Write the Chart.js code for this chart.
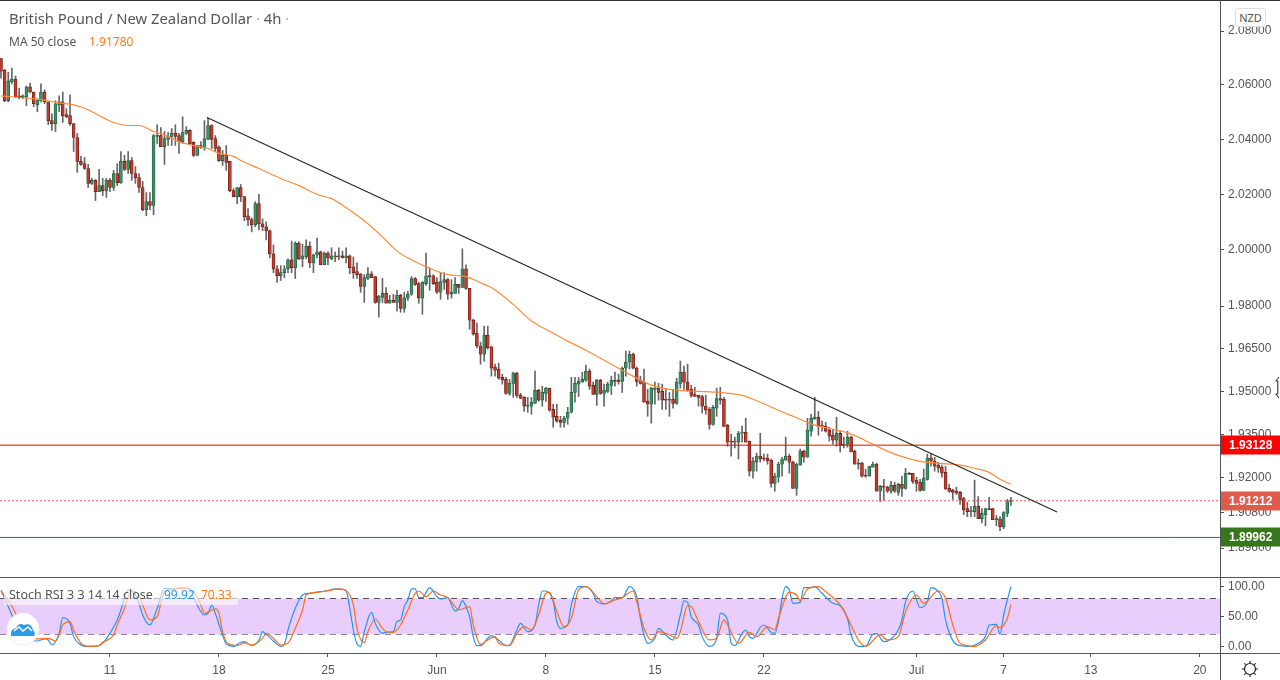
<!DOCTYPE html>
<html>
<head>
<meta charset="utf-8">
<title>GBP/NZD 4h</title>
<script src="https://cdn.jsdelivr.net/npm/chart.js@4"></script>
<style>
  html, body { margin: 0; padding: 0; background: #fff; }
  #page { position: relative; width: 1280px; height: 680px; overflow: hidden; font-family: "Noto Sans", sans-serif; color: #555; }
  canvas { position: absolute; left: 0; }
  #myChart { top: 0; }
  #stochChart { top: 577px; }
  .rule { position: absolute; background: #555; }
  .txt { position: absolute; white-space: pre; }
  #nzd { position: absolute; left: 1235px; top: 8px; width: 29px; height: 17px; line-height: 17px; text-align: center; border: 1px solid #ddd; border-radius: 3px; font-size: 11px; background: #fff; }
  #stochBack { position: absolute; left: 4px; top: 585px; width: 234px; height: 20px; background: rgba(255,255,255,0.6); }
  svg { position: absolute; }
</style>
</head>
<body>
<div id="page">
  <canvas id="myChart" width="1280" height="577" style="width:1280px;height:577px"></canvas>
  <canvas id="stochChart" width="1280" height="103" style="width:1280px;height:103px"></canvas>
  <div class="rule" style="left:0;top:0;width:1280px;height:1px;background:#333"></div>
  <div class="rule" style="left:0;top:577px;width:1280px;height:1px"></div>
  <div class="rule" style="left:0;top:653px;width:1280px;height:1px"></div>
  <div class="rule" style="left:1220px;top:0;width:1px;height:680px"></div>
  <div class="txt" style="left:9px;top:8px;font-size:14.8px;line-height:20px">British Pound / New Zealand Dollar <span style="color:#aaa">·</span> 4h <span style="color:#aaa">·</span></div>
  <div class="txt" style="left:9px;top:33px;font-size:12px;line-height:17px">MA 50 close</div>
  <div class="txt" style="left:89px;top:33px;font-size:12px;line-height:17px;color:#ff7a1a">1.91780</div>
  <div id="nzd">NZD</div>
  <div id="stochBack"></div>
  <div class="txt" style="left:9px;top:586px;font-size:12.5px;line-height:17px">Stoch RSI 3 3 14 14 close</div>
  <div class="txt" style="left:164px;top:586px;font-size:12px;line-height:17px;color:#2196f3">99.92</div>
  <div class="txt" style="left:201px;top:586px;font-size:12px;line-height:17px;color:#ff7a1a">70.33</div>
  <svg style="left:6px;top:612px" width="34" height="34" viewBox="0 0 34 34">
    <circle cx="17" cy="17" r="16" fill="#fff" stroke="#eee"/>
    <path d="M5 24 q-1 -7 5 -8 q3 -6 8 -3 q7 -3 9 5 q3 3 1 6 z" fill="#2e9be6"/>
    <path d="M8 19 l5 -4 l4 4 l5 -4 l4 4" fill="none" stroke="#fff" stroke-width="1.5"/>
  </svg>
  <svg style="left:1241px;top:660px" width="18" height="18" viewBox="0 0 18 18">
    <circle cx="9" cy="9" r="5.5" fill="none" stroke="#222" stroke-width="1.2"/>
    <path d="M9 1v2M9 15v2M1 9h2M15 9h2M3.3 3.3l1.4 1.4M13.3 13.3l1.4 1.4M3.3 14.7l1.4-1.4M13.3 4.7l1.4-1.4" stroke="#222" stroke-width="1.2"/>
  </svg>
  <svg style="left:1275px;top:376px" width="5" height="23" viewBox="0 0 5 23">
    <path d="M4 1 L0.8 5 H2.8 V18 H0.8 L4 22" fill="#fff" stroke="#222" stroke-width="1"/>
  </svg>
</div>

<script>
// candles, one entry per 4h bar
const opens = [
  2.0698,2.0655,2.0542,2.0611,2.0622,2.0560,2.0553,2.0556,2.0593,2.0574,
  2.0527,2.0542,2.0574,2.0538,2.0469,2.0458,2.0527,2.0538,2.0491,2.0487,
  2.0458,2.0407,2.0320,2.0312,2.0294,2.0240,2.0251,2.0210,2.0232,2.0214,
  2.0251,2.0225,2.0276,2.0243,2.0320,2.0291,2.0323,2.0276,2.0261,2.0225,
  2.0145,2.0174,2.0160,2.0411,2.0414,2.0374,2.0400,2.0411,2.0422,2.0414,
  2.0392,2.0422,2.0433,2.0389,2.0342,2.0378,2.0371,2.0400,2.0451,2.0403,
  2.0371,2.0323,2.0342,2.0320,2.0214,2.0192,2.0225,2.0192,2.0123,2.0109,
  2.0090,2.0167,2.0094,2.0083,2.0069,1.9986,1.9933,1.9908,1.9919,1.9933,
  1.9965,1.9937,2.0025,1.9968,1.9975,2.0014,1.9954,1.9982,1.9993,1.9947,
  1.9989,1.9968,1.9979,1.9975,1.9979,1.9972,1.9979,1.9940,1.9923,1.9915,
  1.9870,1.9898,1.9915,1.9905,1.9813,1.9831,1.9845,1.9810,1.9820,1.9813,
  1.9838,1.9792,1.9828,1.9842,1.9898,1.9880,1.9828,1.9880,1.9908,1.9908,
  1.9884,1.9849,1.9884,1.9894,1.9842,1.9845,1.9877,1.9866,1.9933,1.9863,
  1.9750,1.9704,1.9659,1.9630,1.9697,1.9655,1.9585,1.9578,1.9549,1.9542,
  1.9493,1.9528,1.9564,1.9486,1.9479,1.9448,1.9448,1.9458,1.9503,1.9469,
  1.9493,1.9511,1.9437,1.9413,1.9399,1.9392,1.9406,1.9427,1.9496,1.9525,
  1.9532,1.9539,1.9571,1.9521,1.9489,1.9539,1.9493,1.9500,1.9521,1.9539,
  1.9539,1.9535,1.9581,1.9602,1.9630,1.9581,1.9539,1.9532,1.9465,1.9455,
  1.9507,1.9511,1.9500,1.9472,1.9472,1.9472,1.9458,1.9528,1.9567,1.9532,
  1.9507,1.9489,1.9486,1.9482,1.9448,1.9437,1.9385,1.9441,1.9475,1.9472,
  1.9382,1.9327,1.9323,1.9323,1.9354,1.9358,1.9327,1.9223,1.9254,1.9275,
  1.9268,1.9268,1.9261,1.9181,1.9202,1.9247,1.9261,1.9275,1.9254,1.9164,
  1.9244,1.9292,1.9271,1.9361,1.9403,1.9410,1.9378,1.9378,1.9365,1.9347,
  1.9330,1.9354,1.9313,1.9316,1.9341,1.9292,1.9251,1.9251,1.9209,1.9206,
  1.9237,1.9247,1.9154,1.9171,1.9168,1.9154,1.9174,1.9150,1.9178,1.9164,
  1.9216,1.9216,1.9192,1.9185,1.9157,1.9195,1.9268,1.9258,1.9244,1.9237,
  1.9219,1.9164,1.9157,1.9154,1.9150,1.9129,1.9095,1.9084,1.9084,1.9102,
  1.9060,1.9074,1.9095,1.9095,1.9057,1.9060,1.9032,1.9078,1.9119
];
const highs = [
  2.0698,2.0658,2.0647,2.0662,2.0633,2.0589,2.0564,2.0596,2.0607,2.0574,
  2.0549,2.0604,2.0582,2.0538,2.0494,2.0542,2.0560,2.0574,2.0513,2.0564,
  2.0458,2.0422,2.0338,2.0334,2.0309,2.0258,2.0254,2.0291,2.0258,2.0258,
  2.0258,2.0287,2.0312,2.0356,2.0342,2.0356,2.0334,2.0301,2.0276,2.0247,
  2.0207,2.0207,2.0418,2.0454,2.0443,2.0429,2.0425,2.0440,2.0454,2.0422,
  2.0483,2.0447,2.0436,2.0392,2.0378,2.0392,2.0469,2.0478,2.0454,2.0414,
  2.0378,2.0360,2.0378,2.0320,2.0221,2.0225,2.0236,2.0192,2.0149,2.0116,
  2.0174,2.0200,2.0112,2.0101,2.0072,2.0018,1.9944,1.9944,1.9944,1.9968,
  2.0032,2.0029,2.0029,2.0021,2.0036,2.0029,1.9986,2.0043,1.9996,1.9993,
  1.9993,2.0008,1.9993,2.0008,1.9996,2.0008,1.9982,1.9975,1.9954,1.9915,
  1.9912,1.9937,1.9923,1.9905,1.9838,1.9898,1.9866,1.9838,1.9842,1.9856,
  1.9842,1.9849,1.9852,1.9905,1.9901,1.9884,1.9887,1.9989,1.9937,1.9912,
  1.9901,1.9919,1.9919,1.9898,1.9894,1.9901,1.9877,2.0004,1.9947,1.9863,
  1.9754,1.9740,1.9673,1.9729,1.9729,1.9659,1.9595,1.9599,1.9560,1.9549,
  1.9542,1.9567,1.9567,1.9493,1.9482,1.9479,1.9479,1.9571,1.9507,1.9518,
  1.9514,1.9511,1.9455,1.9455,1.9413,1.9413,1.9444,1.9549,1.9549,1.9549,
  1.9567,1.9592,1.9578,1.9532,1.9542,1.9542,1.9525,1.9532,1.9553,1.9567,
  1.9560,1.9585,1.9641,1.9641,1.9634,1.9585,1.9553,1.9578,1.9507,1.9514,
  1.9532,1.9528,1.9525,1.9507,1.9496,1.9507,1.9546,1.9606,1.9588,1.9595,
  1.9521,1.9514,1.9486,1.9486,1.9486,1.9444,1.9451,1.9511,1.9514,1.9479,
  1.9385,1.9351,1.9341,1.9361,1.9379,1.9406,1.9327,1.9271,1.9285,1.9354,
  1.9282,1.9282,1.9265,1.9216,1.9254,1.9271,1.9341,1.9282,1.9258,1.9251,
  1.9299,1.9296,1.9406,1.9420,1.9479,1.9430,1.9396,1.9392,1.9375,1.9368,
  1.9410,1.9361,1.9341,1.9361,1.9344,1.9296,1.9265,1.9254,1.9230,1.9240,
  1.9254,1.9251,1.9174,1.9195,1.9171,1.9188,1.9185,1.9181,1.9206,1.9233,
  1.9219,1.9216,1.9202,1.9195,1.9230,1.9282,1.9282,1.9271,1.9254,1.9244,
  1.9240,1.9178,1.9161,1.9168,1.9154,1.9133,1.9116,1.9102,1.9192,1.9136,
  1.9095,1.9095,1.9133,1.9095,1.9071,1.9067,1.9084,1.9126,1.9133
];
const lows = [
  2.0625,2.0538,2.0538,2.0604,2.0553,2.0549,2.0549,2.0524,2.0571,2.0520,
  2.0502,2.0538,2.0531,2.0454,2.0433,2.0429,2.0502,2.0462,2.0480,2.0451,
  2.0356,2.0280,2.0305,2.0291,2.0225,2.0236,2.0178,2.0210,2.0196,2.0189,
  2.0210,2.0214,2.0232,2.0240,2.0287,2.0276,2.0251,2.0240,2.0207,2.0141,
  2.0123,2.0145,2.0127,2.0385,2.0374,2.0309,2.0378,2.0378,2.0378,2.0349,
  2.0385,2.0418,2.0382,2.0338,2.0342,2.0367,2.0360,2.0400,2.0367,2.0356,
  2.0320,2.0305,2.0287,2.0210,2.0192,2.0167,2.0174,2.0105,2.0087,2.0065,
  2.0083,2.0072,2.0069,2.0036,1.9972,1.9919,1.9884,1.9891,1.9901,1.9919,
  1.9919,1.9898,1.9965,1.9940,1.9968,1.9937,1.9919,1.9972,1.9947,1.9947,
  1.9947,1.9965,1.9958,1.9965,1.9972,1.9954,1.9915,1.9898,1.9898,1.9849,
  1.9813,1.9894,1.9901,1.9810,1.9761,1.9813,1.9810,1.9810,1.9813,1.9782,
  1.9778,1.9778,1.9820,1.9838,1.9873,1.9810,1.9771,1.9873,1.9856,1.9877,
  1.9845,1.9824,1.9859,1.9824,1.9828,1.9845,1.9845,1.9866,1.9859,1.9718,
  1.9697,1.9652,1.9595,1.9606,1.9648,1.9553,1.9553,1.9542,1.9525,1.9489,
  1.9486,1.9479,1.9479,1.9475,1.9430,1.9427,1.9420,1.9458,1.9465,1.9448,
  1.9465,1.9430,1.9375,1.9392,1.9375,1.9375,1.9385,1.9424,1.9462,1.9482,
  1.9532,1.9535,1.9507,1.9489,1.9451,1.9489,1.9448,1.9496,1.9489,1.9518,
  1.9525,1.9496,1.9553,1.9578,1.9578,1.9518,1.9525,1.9462,1.9413,1.9389,
  1.9455,1.9469,1.9437,1.9437,1.9413,1.9441,1.9455,1.9511,1.9507,1.9500,
  1.9479,1.9482,1.9448,1.9424,1.9420,1.9368,1.9382,1.9413,1.9455,1.9378,
  1.9309,1.9275,1.9303,1.9265,1.9323,1.9323,1.9206,1.9199,1.9223,1.9254,
  1.9258,1.9247,1.9168,1.9154,1.9185,1.9206,1.9261,1.9216,1.9164,1.9140,
  1.9244,1.9254,1.9271,1.9344,1.9403,1.9347,1.9361,1.9358,1.9327,1.9316,
  1.9309,1.9289,1.9303,1.9306,1.9289,1.9247,1.9230,1.9202,1.9202,1.9206,
  1.9237,1.9154,1.9119,1.9123,1.9150,1.9147,1.9150,1.9140,1.9136,1.9161,
  1.9212,1.9181,1.9154,1.9154,1.9157,1.9192,1.9240,1.9223,1.9219,1.9202,
  1.9161,1.9150,1.9126,1.9143,1.9109,1.9074,1.9067,1.9067,1.9067,1.9060,
  1.9046,1.9036,1.9091,1.9057,1.9036,1.9019,1.9026,1.9067,1.9105
];
const closes = [
  2.0651,2.0542,2.0615,2.0622,2.0556,2.0553,2.0560,2.0593,2.0574,2.0531,
  2.0545,2.0574,2.0538,2.0469,2.0458,2.0531,2.0538,2.0487,2.0483,2.0458,
  2.0407,2.0320,2.0309,2.0294,2.0240,2.0251,2.0210,2.0232,2.0214,2.0251,
  2.0225,2.0276,2.0243,2.0320,2.0291,2.0323,2.0276,2.0261,2.0225,2.0145,
  2.0174,2.0160,2.0414,2.0414,2.0374,2.0403,2.0411,2.0422,2.0411,2.0392,
  2.0425,2.0433,2.0385,2.0342,2.0378,2.0371,2.0403,2.0451,2.0400,2.0367,
  2.0323,2.0342,2.0316,2.0214,2.0192,2.0225,2.0192,2.0119,2.0109,2.0090,
  2.0167,2.0094,2.0083,2.0069,1.9986,1.9933,1.9908,1.9919,1.9933,1.9965,
  1.9937,2.0025,1.9968,1.9979,2.0014,1.9954,1.9982,1.9993,1.9947,1.9989,
  1.9972,1.9979,1.9975,1.9979,1.9972,1.9979,1.9937,1.9919,1.9912,1.9870,
  1.9901,1.9915,1.9901,1.9813,1.9835,1.9845,1.9810,1.9820,1.9813,1.9838,
  1.9792,1.9828,1.9842,1.9898,1.9877,1.9828,1.9884,1.9908,1.9905,1.9880,
  1.9849,1.9887,1.9894,1.9842,1.9849,1.9877,1.9866,1.9933,1.9863,1.9750,
  1.9701,1.9659,1.9630,1.9697,1.9652,1.9581,1.9574,1.9546,1.9539,1.9493,
  1.9528,1.9564,1.9486,1.9475,1.9448,1.9451,1.9462,1.9503,1.9469,1.9496,
  1.9511,1.9434,1.9410,1.9396,1.9392,1.9406,1.9427,1.9496,1.9528,1.9535,
  1.9542,1.9571,1.9518,1.9489,1.9539,1.9493,1.9503,1.9525,1.9539,1.9535,
  1.9535,1.9581,1.9602,1.9630,1.9581,1.9535,1.9528,1.9462,1.9455,1.9511,
  1.9511,1.9496,1.9469,1.9469,1.9469,1.9458,1.9532,1.9567,1.9532,1.9503,
  1.9486,1.9482,1.9479,1.9448,1.9434,1.9385,1.9444,1.9475,1.9469,1.9378,
  1.9323,1.9323,1.9327,1.9354,1.9358,1.9323,1.9223,1.9258,1.9275,1.9265,
  1.9265,1.9258,1.9181,1.9206,1.9247,1.9265,1.9275,1.9254,1.9164,1.9247,
  1.9292,1.9271,1.9365,1.9406,1.9410,1.9378,1.9382,1.9361,1.9344,1.9330,
  1.9354,1.9313,1.9316,1.9341,1.9289,1.9247,1.9247,1.9206,1.9206,1.9240,
  1.9247,1.9154,1.9171,1.9168,1.9154,1.9174,1.9154,1.9178,1.9164,1.9216,
  1.9212,1.9188,1.9181,1.9157,1.9199,1.9268,1.9258,1.9240,1.9233,1.9216,
  1.9161,1.9154,1.9150,1.9147,1.9126,1.9091,1.9084,1.9088,1.9102,1.9060,
  1.9078,1.9095,1.9091,1.9057,1.9060,1.9032,1.9081,1.9119,1.91212
];

// MA 50, sampled at these bars
const maBars = [0,9,13,16,20,24,27,31,35,38,42,46,49,53,57,60,64,66,71,77,82,87,91,95,100,105,109,113,117,123,128,133,135,141,146,151,156,161,167,172,177,181,186,192,198,204,209,214,218,224,229,234,240,244,248,253,258,264,268,272,275,278];
const maValues = [2.0560,2.0549,2.0542,2.0534,2.0527,2.0509,2.0487,2.0462,2.0451,2.0451,2.0429,2.0411,2.0392,2.0378,2.0367,2.0349,2.0338,2.0323,2.0294,2.0258,2.0232,2.0200,2.0185,2.0152,2.0105,2.0047,1.9996,1.9965,1.9940,1.9912,1.9905,1.9877,1.9866,1.9806,1.9747,1.9711,1.9676,1.9644,1.9602,1.9567,1.9532,1.9514,1.9504,1.9500,1.9496,1.9486,1.9462,1.9434,1.9413,1.9382,1.9368,1.9351,1.9316,1.9292,1.9273,1.9257,1.9250,1.9244,1.9233,1.9219,1.9195,1.9178];

// Stoch RSI K
const kBars = [0,1,3,4,6,8,10,12,13,14,16,17,19,20,22,23,26,28,30,32,33,34,35,37,38,39,41,43,45,47,50,52,53,54,56,57,58,59,61,62,64,66,67,69,71,72,73,75,77,78,79,81,83,85,88,90,92,94,95,96,97,98,99,100,102,103,105,106,108,109,110,111,112,113,114,115,116,118,120,121,123,124,125,126,127,128,129,130,131,132,134,135,137,139,140,142,143,145,147,148,149,150,152,153,154,156,157,159,161,163,164,166,168,169,171,173,175,176,177,178,180,181,183,185,187,188,189,190,192,193,195,197,198,200,201,202,204,205,206,207,209,210,212,213,214,215,216,217,218,220,221,223,224,226,229,231,233,234,236,238,240,241,243,245,247,248,249,251,253,255,256,258,259,260,262,264,267,269,271,272,274,275,276,278];
const kValues = [94,80,52.4,35.7,16,10.6,8.9,12.3,10.6,2.2,21.7,48,38.5,16.2,2.2,0,0,5,21.7,44,60.8,80.3,94.3,85.9,72,52.4,35.7,63.6,97,96,98,96,83,69,52.4,55,69,55,19,3.9,0,6.7,7.8,1.1,10.6,24.5,20,8.9,0,3.3,27.3,63.6,85.9,88.7,91.5,93.2,96,95.4,93.2,63.6,27.3,3.9,0,24.5,56.9,38.5,21.7,23.4,24.5,41.3,44.1,66.4,77.5,96,96,81.5,81.5,98.2,83.1,79.2,81.5,69.2,59.1,63.6,76.4,66.4,49.6,16.2,1.1,1.1,13.4,17.8,10.6,1.1,2.2,27.3,38.5,24.5,35.7,69.2,92.6,92.6,74.8,41.3,30.1,35.7,69.2,99.9,100,88.7,74.8,70.9,75.9,81.5,81.5,100,83.1,46.9,19,5,13.4,30.1,19,10.6,52.4,75.9,73.6,49.6,35.7,16.2,0,13.4,55.2,44.1,5,1.1,21.7,27.3,16.2,13.4,31.8,35.7,23.4,21.7,41.3,80.3,99.9,94.3,72,73.6,98.2,98.2,100,88.7,72,68,46.9,19,0,0,20.1,21.2,7.8,12.3,27.3,44.1,74.8,92.6,64.7,74.8,98.2,91.5,80.3,44.1,9.5,1.1,0,5,16.2,35.7,36.8,20.1,52.4,99.92];

// Stoch RSI D
const dBars = [0,2,4,6,8,10,13,15,16,17,19,20,22,24,27,28,31,32,34,35,36,38,39,41,43,44,45,48,50,53,55,56,59,60,61,62,65,67,69,72,73,75,77,79,81,83,84,87,90,93,95,97,98,100,101,103,105,106,108,110,112,114,115,117,119,121,123,125,126,129,130,132,134,136,137,140,142,144,146,148,150,151,153,155,157,159,161,164,166,169,171,174,175,177,179,181,184,186,187,189,190,192,195,197,199,200,203,206,208,211,213,214,217,219,220,222,225,227,231,234,236,238,242,244,247,249,252,254,258,260,262,264,268,271,274,275,277,278];
const dValues = [92.6,77.5,55.2,27.3,13.4,12.3,13.4,8.9,19,35.7,41.3,27.3,5,0,1.1,6.7,19,35.7,63.6,83.1,92.6,85.9,69.2,44.1,49.6,72,91.5,96,97,91.5,69.2,55.2,62.5,55.2,24.5,7.8,1.1,5.6,2.2,13.4,21.7,13.4,2.2,5,30.1,60.8,85.9,90.4,93.2,96,93.2,69.2,30.1,6.1,24.5,45.7,30.1,24.5,23.4,35.7,60.8,88.7,92.6,83.1,92.6,85.9,81.5,66.4,60.8,66.4,35.7,3.3,10.6,16.2,5,1.1,21.7,32.9,27.3,52.4,88.7,90.4,58,32.9,46.9,94.3,100,83.1,70.9,77.5,81.5,92.6,74.8,30.1,10.6,24.5,19,13.4,24.5,68,66.4,41.3,10.6,13.4,44.1,35.7,5,23.4,16.2,32.9,27.3,46.9,90.4,85.9,75.9,96,99.9,91.5,69.2,35.7,10.6,0,19,10.6,16.2,58,85.9,72,92.6,80.3,35.7,5,0,10.6,34.6,31.2,46.9,70.33];

// axis ticks
const priceTicks = [2.08,2.06,2.04,2.02,2.00,1.98,1.965,1.95,1.935,1.92,1.908,1.896];
const stochTicks = [100,50,0];
const timeBars = [30,60,90,120,150,180,210,252,276,300,330];
const timeLabels = ["11","18","25","Jun","8","15","22","Jul","7","13","20"];

// drawn levels
const trendBars = [56.7,290.7];
const trendPrices = [2.0480,1.9083];
const redLevel = 1.93128;
const lastPrice = 1.91212;
const greenLevel = 1.89962;
const stochUpper = 80;
const stochLower = 20;

const xMin = -0.275;
const xMax = 335.55;
const priceMin = 1.8862;
const priceMax = 2.0916;
const stochMin = -11.2;
const stochMax = 116;
const axisFont = { family: "Liberation Sans", size: 12 };

function zip(xs, ys) {
  return xs.map((x, i) => ({ x: x, y: ys[i] }));
}
function level(v) {
  return [{ x: xMin, y: v }, { x: xMax, y: v }];
}

const up = closes.map((c, i) => c >= opens[i]);

// price tags on the right axis
const priceTags = {
  id: "priceTags",
  afterDraw(chart) {
    const c = chart.ctx;
    const y = chart.scales.y;
    [[redLevel, "#ff0000"], [lastPrice, "#df5b4c"], [greenLevel, "#38761d"]].forEach(([v, col]) => {
      const py = y.getPixelForValue(v);
      c.fillStyle = col;
      c.fillRect(1221, Math.round(py) - 9.5, 59, 19);
      c.fillStyle = "#fff";
      c.font = "bold 12px 'Liberation Sans'";
      c.textBaseline = "middle";
      c.textAlign = "left";
      c.fillText(v.toFixed(5), 1229, Math.round(py) + 1);
    });
  },
};

new Chart(document.getElementById("myChart").getContext("2d"), {
  type: "bar",
  data: {
    datasets: [
      {
        type: "line",
        data: zip(maBars, maValues),
        borderColor: "#ff8a3c",
        borderWidth: 1.2,
        pointRadius: 0,
        cubicInterpolationMode: "monotone",
        order: 1,
      },
      {
        type: "line",
        data: zip(trendBars, trendPrices),
        borderColor: "#222",
        borderWidth: 1.1,
        pointRadius: 0,
        order: 0,
      },
      { type: "line", data: level(redLevel), borderColor: "#f00000", borderWidth: 1, pointRadius: 0, order: 2 },
      { type: "line", data: level(lastPrice), borderColor: "#df5b4c", borderWidth: 1, borderDash: [2, 2], pointRadius: 0, order: 2 },
      { type: "line", data: level(greenLevel), borderColor: "#38761d", borderWidth: 1, pointRadius: 0, order: 2 },
      {
        data: opens.map((o, i) => ({ x: i, y: [o, closes[i]] })),
        backgroundColor: up.map((u) => (u ? "#3c8f66" : "#c23a2c")),
        borderColor: up.map((u) => (u ? "#1d5a3d" : "#661a12")),
        borderWidth: 0.7,
        borderSkipped: false,
        barThickness: 3,
        minBarLength: 1,
        grouped: false,
        order: 3,
      },
      {
        data: highs.map((h, i) => ({ x: i, y: [lows[i], h] })),
        backgroundColor: "#666",
        barThickness: 1,
        grouped: false,
        order: 4,
      },
    ],
  },
  options: {
    responsive: false,
    animation: false,
    devicePixelRatio: 1,
    layout: { padding: 0 },
    plugins: { legend: { display: false }, tooltip: { enabled: false } },
    scales: {
      x: { type: "linear", min: xMin, max: xMax, display: false, offset: false },
      y: {
        type: "logarithmic",
        position: "right",
        min: priceMin,
        max: priceMax,
        bounds: "data",
        // the first and last labels must not pull the plot in from the edges
        afterFit(s) { s.width = 60; s.paddingTop = 0; s.paddingBottom = 0; },
        afterBuildTicks(s) { s.ticks = priceTicks.map((v) => ({ value: v })); },
        grid: { drawOnChartArea: false, color: "#555", tickLength: 4 },
        border: { display: false },
        ticks: {
          autoSkip: false,
          padding: 4,
          color: "#555",
          font: axisFont,
          callback: (v) => Number(v).toFixed(5),
        },
      },
    },
  },
  plugins: [priceTags],
});

new Chart(document.getElementById("stochChart").getContext("2d"), {
  type: "line",
  data: {
    datasets: [
      { data: zip(kBars, kValues), borderColor: "#2196f3", borderWidth: 1.2, pointRadius: 0, cubicInterpolationMode: "monotone", order: 1 },
      { data: zip(dBars, dValues), borderColor: "#ff6d1a", borderWidth: 1.2, pointRadius: 0, cubicInterpolationMode: "monotone", order: 0 },
      { data: level(stochUpper), borderColor: "#555", borderWidth: 1, borderDash: [6, 5], pointRadius: 0, fill: "+1", backgroundColor: "#e8cdfd", order: 3 },
      { data: level(stochLower), borderColor: "#555", borderWidth: 1, borderDash: [6, 5], pointRadius: 0, order: 3 },
    ],
  },
  options: {
    responsive: false,
    animation: false,
    devicePixelRatio: 1,
    layout: { padding: 0 },
    plugins: { legend: { display: false }, tooltip: { enabled: false }, filler: { propagate: false } },
    scales: {
      x: {
        type: "linear",
        min: xMin,
        max: xMax,
        afterFit(s) { s.height = 27; s.paddingLeft = 0; s.paddingRight = 0; },
        afterBuildTicks(s) { s.ticks = timeBars.map((v) => ({ value: v })); },
        grid: { drawOnChartArea: false, color: "#555", tickLength: 4 },
        border: { display: false },
        ticks: {
          autoSkip: false,
          maxRotation: 0,
          padding: 6,
          color: "#555",
          font: axisFont,
          callback: (v) => timeLabels[timeBars.indexOf(v)],
        },
      },
      y: {
        position: "right",
        min: stochMin,
        max: stochMax,
        bounds: "data",
        afterFit(s) { s.width = 60; s.paddingTop = 0; s.paddingBottom = 0; },
        afterBuildTicks(s) { s.ticks = stochTicks.map((v) => ({ value: v })); },
        grid: { drawOnChartArea: false, color: "#555", tickLength: 4 },
        border: { display: false },
        ticks: {
          autoSkip: false,
          padding: 4,
          color: "#555",
          font: axisFont,
          callback: (v) => Number(v).toFixed(2),
        },
      },
    },
  },
});
</script>
</body>
</html>
